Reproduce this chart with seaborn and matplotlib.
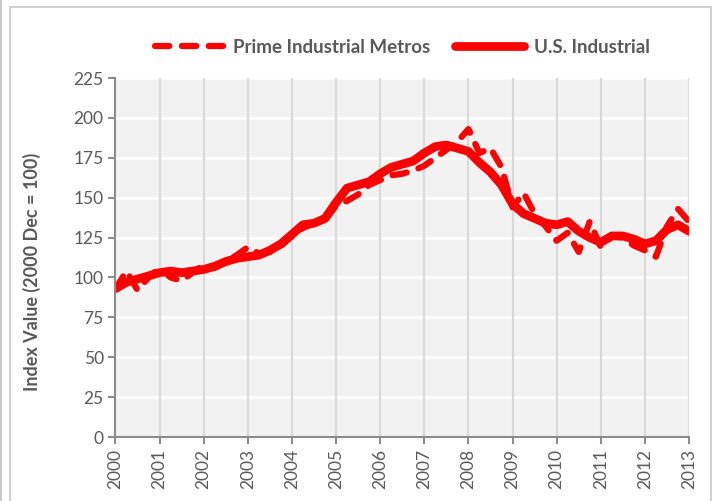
import numpy as np
import pandas as pd
import matplotlib.pyplot as plt
import seaborn as sns
from matplotlib.patches import Rectangle

# quarterly index values, 2000 Q1 .. 2013 Q1
quarters = np.arange(2000, 2013.01, 0.25)

us_industrial = [93, 97, 99, 101,
                 103, 104, 103, 104,
                 105, 107, 110, 112,
                 113, 114, 117, 121,
                 127, 133, 134, 137,
                 147, 156, 158, 160,
                 165, 169, 171, 173,
                 178, 182, 183, 181,
                 179, 172, 166, 158,
                 146, 140, 137, 134,
                 133, 135, 129, 125,
                 122, 126, 126, 124,
                 121, 123, 130, 133,
                 129]

prime_metros = [93, 104, 92, 100,
                106, 100, 98, 103,
                108, 106, 110, 114,
                119, 115, 116, 120,
                126, 131, 134, 136,
                145, 148, 152, 158,
                161, 164, 165, 167,
                170, 175, 180, 185,
                193, 178, 181, 169,
                144, 153, 140, 132,
                123, 128, 116, 135,
                119, 126, 125, 120,
                117, 113, 132, 143,
                135]

years = list(range(2000, 2014))
y_ticks = list(range(0, 226, 25))

df = pd.DataFrame({"year": quarters, "us": us_industrial, "prime": prime_metros})

sns.set_theme(style="white")
plt.rcParams["font.family"] = ["Lato", "DejaVu Sans"]

gray_txt = "#595959"
fig = plt.figure(figsize=(7.15, 5.01), dpi=100)
ax = fig.add_axes([0.1615, 0.1277, 0.8021, 0.7166])
ax.set_facecolor("#f2f2f2")

# outer chart frame
fig.patches.append(Rectangle((10 / 715, -0.05), 701 / 715, 1 - 7 / 501 + 0.05,
                             transform=fig.transFigure, fill=False,
                             edgecolor="#c8c8c8", lw=1.2))
fig.patches.append(Rectangle((1 / 715, -0.05), 0, 1.1, transform=fig.transFigure,
                             fill=False, edgecolor="#c8c8c8", lw=1.2))

sns.lineplot(data=df, x="year", y="prime", ax=ax, color="#ff0000", lw=4.5,
             label="Prime Industrial Metros", zorder=3,
             dashes=False)
line_prime = ax.lines[-1]
line_prime.set_dashes((2.3, 2.0))
line_prime.set_dash_capstyle("round")
line_prime.set_solid_capstyle("round")

sns.lineplot(data=df, x="year", y="us", ax=ax, color="#ff0000", lw=6.3,
             label="U.S. Industrial", zorder=4)
ax.lines[-1].set_solid_capstyle("round")
ax.lines[-1].set_solid_joinstyle("round")

ax.set_xlim(2000, 2013)
ax.set_ylim(0, 225)
ax.set_xticks(years)
ax.set_xticklabels([str(y) for y in years], rotation=90)
ax.set_yticks(y_ticks)

for y in y_ticks[1:]:
    ax.axhline(y, color="white", lw=1.8, zorder=1)
for x in years[1:]:
    ax.axvline(x, color="#d9d9d9", lw=1.5, zorder=1)

for s in ["top", "right"]:
    ax.spines[s].set_visible(False)
for s in ["left", "bottom"]:
    ax.spines[s].set_color("#8c8c8c")
    ax.spines[s].set_linewidth(1.5)
    ax.spines[s].set_zorder(5)

ax.tick_params(axis="both", which="major", length=5, width=1.5, color="#8c8c8c",
               labelsize=12.5, labelcolor=gray_txt, direction="out",
               left=True, bottom=True)
ax.set_xlabel("")
ax.set_ylabel("Index Value (2000 Dec = 100)", fontsize=13, fontweight="bold",
              color=gray_txt)
ax.yaxis.set_label_coords(-0.13, 0.46)

leg = ax.legend(loc="center", bbox_to_anchor=(0.5, 1.086), ncol=2, frameon=False,
                fontsize=13.5, handlelength=3.7, columnspacing=1.3,
                handletextpad=0.5)
for t in leg.get_texts():
    t.set_color(gray_txt)
    t.set_fontweight("bold")
for h in leg.get_lines():
    h.set_solid_capstyle("round")
    h.set_dash_capstyle("round")

fig.savefig("out.png", dpi=100)
